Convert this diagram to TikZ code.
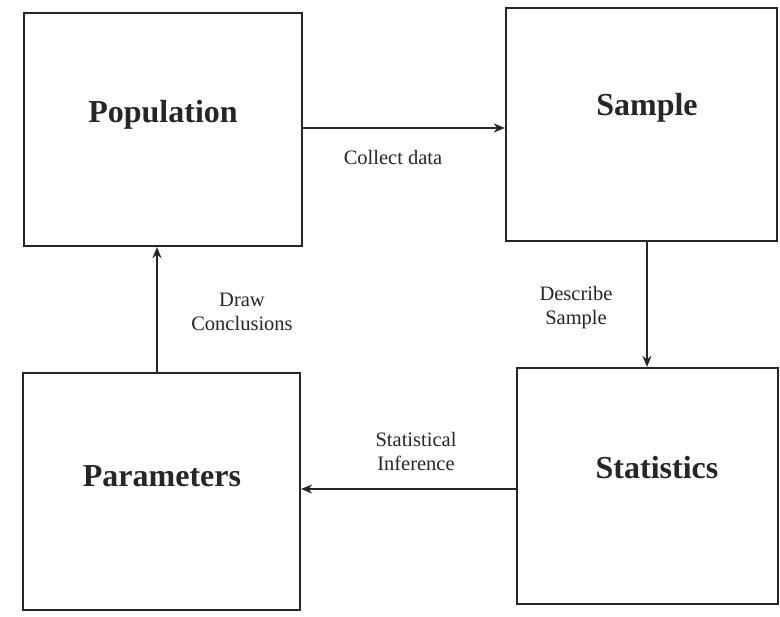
\documentclass[tikz,border=0pt]{standalone}
\usepackage{fontspec}
\setmainfont{Liberation Serif}
\usetikzlibrary{arrows.meta}
\begin{document}
\begin{tikzpicture}[x=1pt,y=-1pt,
  box/.style={draw=black!85, line width=2.2pt, rectangle, inner sep=0pt},
  title/.style={font=\fontsize{32}{36}\bfseries\selectfont, text=black!85},
  lbl/.style={font=\fontsize{20.5}{24}\selectfont, align=center, text=black!85},
  arr/.style={draw=black!85, line width=2pt, -{Stealth[length=11pt,width=9pt]}}]
\useasboundingbox (0,0) rectangle (780,617);
\fill[white] (0,0) rectangle (780,617);
% boxes
\node[box, minimum width=278pt, minimum height=233pt] (pop) at (163,129.5) {};
\node[box, minimum width=271pt, minimum height=233pt] (sam) at (641.5,124.5) {};
\node[box, minimum width=277pt, minimum height=237pt] (par) at (161.5,491.5) {};
\node[box, minimum width=261pt, minimum height=236pt] (sta) at (647.5,486) {};
% titles
\node[title] (popt) at (163,115) {Population};
\node[title] (samt) at (647,108) {Sample};
\node[title] (part) at (162,476) {Parameters};
\node[title] (stat) at (657,468) {Statistics};
% connectors
\draw[arr] ([yshift=1.5pt]pop.east) -- ([yshift=1.5pt]pop.east -| sam.west);
\draw[arr] ([xshift=5.5pt]sam.south) -- ([xshift=5.5pt]sam.south |- sta.north);
\draw[arr] ([yshift=-3pt]sta.west) -- ([yshift=-3pt]sta.west -| par.east);
\draw[arr] ([xshift=-4.5pt]par.north) -- ([xshift=-4.5pt]par.north |- pop.south);
% labels
\node[lbl] (l1) at (393,157) {Collect data};
\node[lbl] (l2) at (576,308) {Describe\\Sample};
\node[lbl] (l3) at (416,451) {Statistical\\Inference};
\node[lbl] (l4) at (242,312) {Draw\\Conclusions};
\end{tikzpicture}
\end{document}
